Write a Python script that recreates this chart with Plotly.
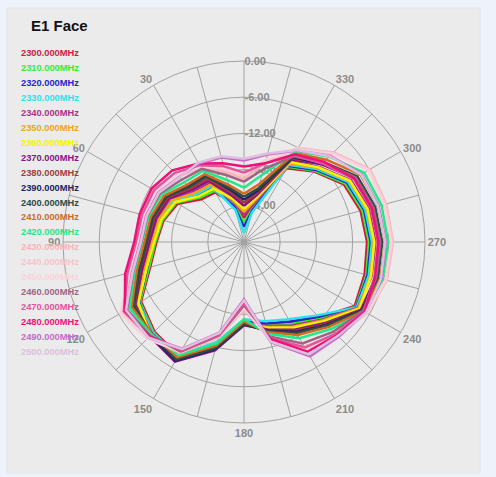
import plotly.graph_objects as go

title_text = "E1 Face"
angles = [0, 15, 30, 45, 60, 75, 90, 105, 120, 135, 150, 165,
          180, 195, 210, 225, 240, 255, 270, 285, 300, 315, 330, 345]
freq_labels = ["2300.000MHz", "2310.000MHz", "2320.000MHz", "2330.000MHz", "2340.000MHz",
               "2350.000MHz", "2360.000MHz", "2370.000MHz", "2380.000MHz", "2390.000MHz",
               "2400.000MHz", "2410.000MHz", "2420.000MHz", "2430.000MHz", "2440.000MHz",
               "2450.000MHz", "2460.000MHz", "2470.000MHz", "2480.000MHz", "2490.000MHz",
               "2500.000MHz"]
colors = ["#d2183f", "#33ee33", "#2626c8", "#30e0ea", "#b02e8c", "#f0a418", "#f4f400",
          "#8a0f8a", "#a23a3a", "#222266", "#2f4a45", "#d2691e", "#22e889", "#f6b4b8",
          "#f8c4cc", "#fbd2dc", "#a06482", "#e0559c", "#ee1177", "#cc66cc", "#dcc0dc"]

# gain (dB) at each angle, one list per angle, series order 2300 ... 2500
a000 = [-26.0, -26.8, -27.5, -28.5, -25.5, -25.0, -24.5, -24.0, -23.5, -23.0, -22.5, -22.0, -21.0, -19.5, -19.0, -18.8, -20.0, -18.5, -17.5, -16.5, -16.2]
a015 = [-23.5, -23.3, -24.0, -24.5, -23.0, -22.8, -22.5, -22.0, -21.5, -21.0, -20.7, -20.2, -19.4, -18.0, -17.6, -17.3, -18.5, -17.0, -16.5, -15.5, -15.3]
a030 = [-20.5, -20.2, -19.5, -19.3, -18.7, -19.0, -19.8, -18.3, -17.9, -17.2, -17.5, -17.0, -16.4, -15.8, -15.6, -15.5, -16.0, -15.3, -15.0, -15.0, -14.8]
a045 = [-20.0, -19.6, -19.0, -18.8, -18.2, -18.5, -19.3, -17.8, -17.4, -17.0, -17.1, -16.6, -16.0, -14.6, -14.5, -14.4, -15.4, -13.8, -13.2, -14.8, -14.9]
a060 = [-17.3, -17.0, -16.6, -16.4, -16.0, -16.2, -16.8, -15.6, -15.3, -15.0, -15.1, -14.7, -14.2, -13.4, -13.3, -13.2, -13.9, -12.8, -12.3, -13.6, -13.7]
a075 = [-16.2, -16.0, -15.7, -15.5, -15.2, -15.4, -15.8, -14.9, -14.6, -14.3, -14.4, -14.0, -13.6, -13.0, -12.9, -12.8, -13.4, -12.5, -12.1, -13.2, -13.3]
a090 = [-15.5, -15.3, -15.0, -14.9, -14.6, -14.8, -15.1, -14.3, -14.0, -13.8, -13.9, -13.5, -13.1, -12.6, -12.5, -12.4, -13.0, -12.1, -11.8, -12.8, -12.9]
a105 = [-13.9, -13.7, -13.4, -13.2, -12.9, -13.0, -13.3, -12.5, -12.2, -12.0, -12.1, -11.6, -11.2, -10.5, -10.4, -10.3, -11.0, -10.0, -9.6, -10.8, -10.9]
a120 = [-10.3, -10.1, -9.9, -9.8, -9.5, -9.6, -9.8, -9.2, -9.0, -8.8, -8.9, -8.5, -8.1, -6.8, -6.5, -6.3, -7.6, -7.0, -7.2, -7.5, -7.4]
a135 = [-9.0, -8.8, -8.6, -8.7, -8.5, -8.3, -8.0, -7.9, -8.2, -8.1, -8.3, -8.4, -8.3, -7.5, -7.4, -7.3, -8.0, -7.8, -7.9, -7.6, -7.6]
a150 = [-8.2, -7.9, -8.0, -8.1, -8.0, -7.7, -7.5, -7.1, -7.6, -7.3, -7.5, -7.9, -8.3, -8.8, -8.9, -9.0, -9.0, -9.3, -9.4, -9.6, -9.5]
a165 = [-12.8, -12.4, -12.6, -12.9, -12.3, -12.0, -11.8, -11.4, -11.9, -11.6, -11.8, -12.2, -12.6, -13.6, -13.7, -13.8, -13.9, -14.1, -14.3, -14.5, -14.4]
a180 = [-17.0, -16.8, -16.9, -17.2, -16.7, -16.5, -16.4, -16.2, -16.5, -16.3, -16.4, -16.8, -17.2, -18.8, -19.0, -19.2, -19.5, -19.8, -20.2, -20.5, -20.3]
a195 = [-15.9, -15.8, -16.0, -16.4, -15.6, -15.4, -15.3, -15.0, -14.9, -14.8, -14.7, -14.5, -14.2, -13.3, -13.1, -13.0, -13.8, -13.5, -13.4, -12.8, -12.9]
a210 = [-14.5, -14.3, -14.8, -15.2, -14.0, -13.8, -13.6, -13.2, -13.0, -12.8, -12.6, -12.2, -11.6, -10.0, -9.7, -9.5, -10.6, -9.8, -9.0, -8.1, -8.5]
a225 = [-12.3, -12.1, -12.5, -12.8, -11.8, -11.6, -11.4, -11.0, -10.8, -10.6, -10.5, -10.1, -9.6, -8.3, -8.1, -8.0, -9.0, -8.5, -8.2, -7.8, -8.0]
a240 = [-8.8, -8.6, -8.5, -8.4, -8.2, -8.1, -7.9, -7.6, -7.5, -7.4, -7.3, -7.1, -6.8, -6.4, -6.4, -6.5, -7.2, -7.0, -6.9, -6.7, -6.6]
a255 = [-9.3, -9.0, -8.8, -8.6, -8.1, -8.3, -8.2, -7.4, -7.1, -7.2, -7.0, -6.6, -6.2, -5.5, -5.6, -5.7, -7.3, -7.6, -7.5, -6.4, -6.5]
a270 = [-9.6, -9.3, -9.0, -8.8, -8.2, -8.5, -8.4, -7.6, -7.2, -7.4, -7.1, -6.6, -6.1, -5.3, -5.4, -5.6, -7.4, -7.8, -7.7, -6.5, -6.6]
a285 = [-10.0, -9.7, -9.4, -9.2, -8.6, -8.9, -8.8, -8.0, -7.6, -7.8, -7.5, -7.0, -6.4, -5.6, -5.7, -5.9, -7.8, -8.2, -8.1, -6.9, -7.0]
a300 = [-10.9, -10.6, -10.3, -10.1, -9.5, -9.8, -9.7, -8.8, -8.4, -8.6, -8.3, -7.7, -7.0, -5.9, -6.0, -6.2, -8.6, -9.0, -8.9, -7.5, -7.6]
a315 = [-13.5, -13.3, -13.1, -12.9, -12.4, -12.6, -12.5, -11.8, -11.5, -11.6, -11.3, -10.7, -10.0, -9.0, -9.1, -9.3, -11.4, -11.6, -11.2, -9.8, -9.9]
a330 = [-15.9, -15.6, -15.4, -15.2, -14.5, -15.0, -14.7, -14.2, -14.0, -13.8, -13.6, -13.0, -12.6, -12.0, -12.0, -12.3, -13.6, -13.4, -13.2, -12.5, -12.4]
a345 = [-23.7, -24.0, -24.5, -25.0, -23.3, -22.8, -22.5, -22.0, -21.6, -21.2, -20.8, -20.0, -18.5, -16.5, -16.0, -15.8, -17.5, -16.5, -16.5, -15.0, -14.8]

radial_ticks = [-24, -18, -12, -6, 0]
radial_labels = ["-24.00", "-18.00", "-12.00", "-6.00", "0.00"]
angle_ticks = list(range(0, 360, 15))
angle_labels = ["" if (t % 30 or t == 0) else str(t) for t in angle_ticks]

rows = [a000, a015, a030, a045, a060, a075, a090, a105, a120, a135, a150, a165,
        a180, a195, a210, a225, a240, a255, a270, a285, a300, a315, a330, a345]

W, H = 496, 477
cx, cy, R = 244, 242, 181

fig = go.Figure()
for i, lab in enumerate(freq_labels):
    vals = [row[i] for row in rows]
    fig.add_trace(go.Scatterpolar(
        r=vals + [vals[0]], theta=angles + [angles[0]], mode="lines",
        line=dict(color=colors[i], width=2.5), name=lab, showlegend=False,
        hoverinfo="skip"))

fig.add_shape(type="rect", xref="paper", yref="paper",
              x0=7 / W, x1=480 / W, y0=1 - 473 / H, y1=1 - 8 / H,
              fillcolor="#ebebeb", line=dict(color="#e2e4e8", width=1), layer="below")

fig.add_annotation(text="<b>" + title_text + "</b>", xref="paper", yref="paper",
                   x=29 / W, y=1 - 25 / H, xanchor="left", yanchor="middle",
                   showarrow=False, font=dict(family="Liberation Sans, Arial", size=15, color="#111111"))
for i, lab in enumerate(freq_labels):
    fig.add_annotation(text="<b>" + lab + "</b>", xref="paper", yref="paper",
                       x=19 / W, y=1 - (53 + i * 14.95) / H, xanchor="left", yanchor="middle",
                       showarrow=False,
                       font=dict(family="Liberation Sans, Arial", size=9.3, color=colors[i]))

fig.update_layout(
    width=W, height=H, margin=dict(l=0, r=0, t=0, b=0),
    paper_bgcolor="#eef2fa", plot_bgcolor="#ebebeb",
    showlegend=False,
    polar=dict(
        domain=dict(x=[(cx - R) / W, (cx + R) / W], y=[(H - cy - R) / H, (H - cy + R) / H]),
        bgcolor="#ebebeb",
        gridshape="linear",
        angularaxis=dict(rotation=90, direction="counterclockwise",
                         tickmode="array", tickvals=angle_ticks,
                         ticktext=[("<b>" + t + "</b>") if t else "" for t in angle_labels],
                         showgrid=True, gridcolor="#a2a2a2", gridwidth=1,
                         showline=True, linecolor="#a2a2a2", linewidth=1, ticks="",
                         layer="below traces",
                         tickfont=dict(family="Liberation Sans, Arial", size=11, color="#8c8c8c")),
        radialaxis=dict(range=[-30, 0], tickmode="array", tickvals=radial_ticks,
                        ticktext=["<b>" + s + "</b>" for s in radial_labels], angle=90,
                        side="clockwise", tickangle=90, layer="below traces",
                        showgrid=True, gridcolor="#a2a2a2", gridwidth=1,
                        showline=False, ticks="",
                        tickfont=dict(family="Liberation Sans, Arial", size=11, color="#8c8c8c")),
    ),
)

fig.write_html("out.html", config={"displayModeBar": False},
               post_script="document.body.style.margin='0';document.body.style.overflow='hidden';")
